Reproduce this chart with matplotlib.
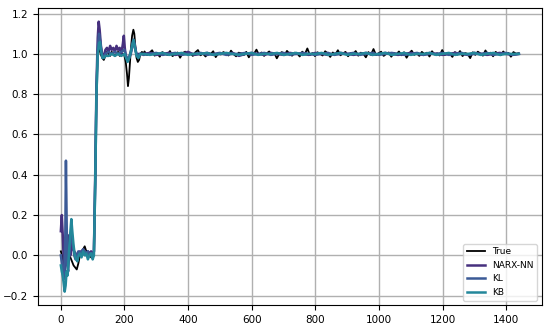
import numpy as np
import matplotlib
matplotlib.use('Agg')
import matplotlib.pyplot as plt
plt.rcParams.update({'font.size': 7.5})

# ---- early transient (hand read) ----
true_x = [0, 4, 8, 12, 16, 20, 25, 30, 35, 40, 45, 50, 55, 60, 65, 70, 75, 80, 85, 90, 95, 100,
          104, 108, 112, 116, 120, 125, 130, 135, 140, 145, 150, 155, 160, 165, 170, 175, 180,
          185, 190, 195, 200, 204, 208, 211, 214, 217, 220, 224, 228, 231, 234, 238, 242, 246,
          250, 255, 259]
true_y = [0.02, 0.0, -0.03, -0.06, -0.04, -0.02, 0.0, -0.01, -0.03, -0.05, -0.06, -0.07, -0.04,
          0.0, 0.02, 0.03, 0.045, 0.02, 0.0, 0.01, -0.01, -0.01, 0.0, 0.35, 0.8, 1.02, 1.03,
          1.0, 0.98, 0.97, 0.99, 1.01, 1.0, 0.99, 1.01, 1.0, 0.99, 1.0, 1.01, 0.99, 1.0, 1.0,
          0.99, 0.96, 0.9, 0.84, 0.88, 0.95, 1.02, 1.09, 1.12, 1.1, 1.04, 0.98, 0.96, 0.97, 1.0,
          1.01, 1.0]

narx_x = [0, 3, 6, 9, 12, 15, 18, 22, 26, 30, 34, 38, 42, 46, 50, 55, 60, 65, 70, 75, 80, 85,
          90, 95, 100, 104, 108, 112, 116, 119, 122, 126, 130, 135, 140, 145, 150, 155, 160, 165,
          170, 175, 180, 185, 190, 195, 198, 201, 204, 208, 212, 216, 220, 224, 228, 232, 236,
          240, 245, 250]
narx_y = [0.12, 0.2, 0.1, -0.02, -0.08, 0.0, 0.08, 0.1, 0.05, 0.0, 0.08, 0.03, 0.02, 0.01, 0.0,
          0.01, 0.02, 0.0, 0.03, 0.02, 0.0, 0.02, 0.01, 0.02, 0.01, 0.02, 0.4, 0.85, 1.08, 1.16,
          1.12, 1.04, 1.0, 0.98, 1.02, 1.03, 1.01, 1.04, 1.02, 1.03, 1.01, 1.04, 1.02, 1.03, 1.0,
          1.05, 1.09, 1.03, 0.99, 0.98, 0.97, 0.99, 1.01, 1.04, 1.07, 1.05, 1.01, 0.99, 1.0, 1.0]

kl_x = [0, 4, 8, 11, 14, 16, 18, 20, 23, 26, 30, 34, 38, 42, 46, 50, 55, 60, 65, 70, 75, 80,
        85, 90, 95, 100, 104, 108, 112, 116, 120, 124, 128, 132, 136, 140, 150, 160, 170, 180,
        190, 200, 205, 210, 215, 220, 225, 229, 233, 238, 244, 250]
kl_y = [0.0, -0.05, -0.12, -0.1, 0.1, 0.47, 0.2, -0.05, -0.08, 0.0, 0.08, 0.1, 0.05, 0.0, -0.02,
        0.0, 0.02, 0.01, 0.02, 0.03, 0.02, 0.01, 0.02, 0.0, 0.01, 0.0, 0.02, 0.35, 0.8, 1.02,
        1.1, 1.06, 1.0, 0.98, 0.99, 1.0, 1.01, 1.0, 1.01, 1.0, 1.01, 1.02, 0.99, 0.97, 0.98,
        1.0, 1.04, 1.06, 1.03, 1.0, 0.99, 1.0]

kb_x = [0, 3, 6, 9, 12, 15, 18, 21, 25, 29, 33, 36, 40, 44, 48, 52, 56, 60, 65, 70, 75, 80, 85,
        90, 95, 100, 104, 108, 112, 116, 120, 123, 127, 131, 135, 140, 150, 160, 170, 180, 190,
        200, 205, 210, 215, 220, 225, 229, 233, 238, 244, 250]
kb_y = [-0.05, -0.08, -0.1, -0.14, -0.18, -0.15, -0.08, -0.1, 0.0, 0.1, 0.18, 0.12, 0.05, 0.0,
        -0.02, -0.03, 0.0, 0.01, -0.01, 0.02, 0.0, 0.01, -0.02, 0.0, 0.01, -0.02, 0.0, 0.35, 0.8,
        1.0, 1.05, 1.06, 1.01, 0.98, 0.98, 0.99, 0.99, 1.0, 0.99, 1.0, 0.99, 1.0, 0.98, 0.96,
        0.98, 1.01, 1.05, 1.07, 1.03, 0.99, 0.98, 1.0]

# ---- steady state (hand read), true every 8 steps from 263, models every 20 from 260 ----
true_flat = [1.012, 0.994, 1.006, 1.018, 0.991, 1.003, 0.986, 1.009, 1.001, 0.995,
             1.014, 0.989, 0.998, 1.007, 0.981, 1.004, 1.011, 0.996, 1.002, 0.990,
             1.008, 1.019, 0.993, 1.001, 0.987, 1.005, 0.999, 1.013, 0.984, 1.003,
             0.997, 1.009, 1.002, 0.992, 1.016, 0.999, 0.988, 1.006, 1.003, 0.994,
             1.010, 0.983, 1.004, 1.000, 1.021, 0.995, 1.007, 0.990, 1.002, 1.012,
             0.996, 1.005, 0.978, 1.001, 1.009, 0.993, 1.015, 1.000, 0.991, 1.006,
             1.003, 0.987, 1.011, 0.998, 1.027, 0.994, 1.004, 0.989, 1.008, 1.000,
             0.992, 1.013, 1.003, 0.985, 1.007, 0.997, 1.018, 0.993, 1.002, 1.010,
             0.988, 1.004, 0.999, 1.014, 0.991, 1.006, 1.001, 0.983, 1.009, 0.996,
             1.024, 0.994, 1.003, 1.011, 0.990, 1.000, 1.007, 0.986, 1.005, 0.998,
             1.012, 0.993, 1.008, 0.981, 1.002, 1.016, 0.995, 1.004, 0.990, 1.010,
             0.999, 1.006, 0.987, 1.013, 0.997, 1.003, 0.992, 1.019, 0.994, 1.005,
             1.001, 0.985, 1.009, 0.996, 1.014, 0.989, 1.004, 1.000, 0.979, 1.008,
             0.995, 1.011, 1.002, 0.991, 1.017, 0.997, 1.006, 0.988, 1.010, 1.000,
             0.993, 1.012, 0.998, 1.005, 0.986, 1.009, 1.001, 1.003]
narx_flat = [1.0, 1.005, 0.995, 1.0, 1.005, 0.995, 1.0, 1.01, 0.995, 1.0,
             1.005, 0.995, 1.0, 1.0, 1.005, 0.99, 1.0, 1.005, 1.0, 0.995,
             1.005, 1.0, 0.995, 1.005, 1.0, 1.0, 0.995, 1.005, 1.0, 0.995,
             1.0, 1.005, 1.0, 0.995, 1.0, 1.005, 0.995, 1.0, 1.005, 1.0,
             0.995, 1.0, 1.005, 1.0, 0.995, 1.005, 1.0, 0.995, 1.0, 1.005,
             1.0, 0.995, 1.005, 1.0, 0.995, 1.0, 1.005, 1.0, 0.995, 1.0]
kl_flat = [0.995, 1.0, 1.005, 0.995, 1.0, 1.005, 0.995, 1.0, 1.0, 1.005,
           0.995, 1.0, 1.005, 0.995, 1.0, 1.0, 1.005, 0.995, 1.0, 1.005,
           0.995, 1.0, 1.005, 0.995, 1.0, 1.005, 1.0, 0.995, 1.0, 1.005,
           0.995, 1.0, 1.0, 1.005, 0.995, 1.0, 1.005, 0.995, 1.0, 1.005,
           1.0, 0.995, 1.0, 1.005, 0.995, 1.0, 1.0, 1.005, 0.995, 1.0,
           1.005, 0.995, 1.0, 1.0, 1.005, 0.995, 1.0, 1.005, 0.995, 1.0]
kb_flat = [1.0, 0.995, 1.0, 1.005, 0.995, 1.0, 1.005, 0.995, 1.0, 1.0,
           1.005, 0.995, 1.0, 1.005, 1.0, 0.995, 1.0, 1.005, 0.995, 1.0,
           1.0, 1.005, 0.995, 1.0, 1.005, 0.995, 1.0, 1.0, 1.005, 0.995,
           1.0, 1.005, 0.995, 1.0, 1.0, 1.005, 0.995, 1.0, 1.005, 0.995,
           1.0, 1.005, 0.995, 1.0, 1.0, 1.005, 0.995, 1.0, 1.005, 0.995,
           1.0, 1.0, 1.005, 0.995, 1.0, 1.005, 0.995, 1.0, 1.0, 1.0]

labels = ['True', 'NARX-NN', 'KL', 'KB']
colors = ['black', '#46307e', '#3b5a96', '#23879a']
widths = [1.3, 1.8, 1.8, 1.8]


def series(xs, ys, flat, start, step):
    fx = start + step * np.arange(len(flat))
    return np.concatenate([xs, fx]), np.concatenate([ys, flat])


fig, ax = plt.subplots(figsize=(5.5, 3.26), dpi=100)
fig.subplots_adjust(left=0.069, right=0.985, top=0.975, bottom=0.064)

all_series = [series(true_x, true_y, true_flat, 263, 8),
              series(narx_x, narx_y, narx_flat, 260, 20),
              series(kl_x, kl_y, kl_flat, 260, 20),
              series(kb_x, kb_y, kb_flat, 260, 20)]

for (x, y), lab, col, w in zip(all_series, labels, colors, widths):
    ax.plot(x, y, color=col, lw=w, label=lab)

ax.grid(True, color='#b0b0b0', lw=1)
ax.legend(loc='lower right', fontsize=6.5)
plt.savefig('out.png')
